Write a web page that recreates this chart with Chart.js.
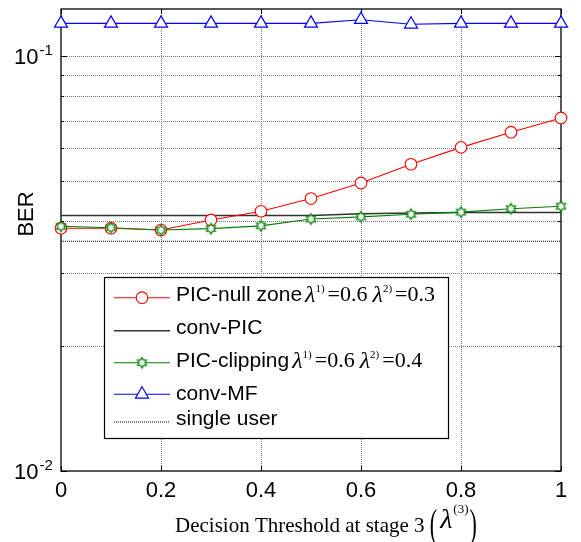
<!DOCTYPE html>
<html><head><meta charset="utf-8">
<script src="https://cdn.jsdelivr.net/npm/chart.js@4.4.1/dist/chart.umd.min.js"></script>
<style>html,body{margin:0;padding:0;background:#fff}canvas{display:block}</style>
</head><body>
<canvas id="c" width="581" height="542"></canvas>
<script>
// ---------- data ----------
const thresholds   = [0, 0.1, 0.2, 0.3, 0.4, 0.5, 0.6, 0.7, 0.8, 0.9, 1.0];
const picNullZone  = [0.0385, 0.0385, 0.0381, 0.0403, 0.0423, 0.0454, 0.0495, 0.0549, 0.0603, 0.0656, 0.0710];
const convPIC      = [0.0413, 0.0413, 0.0413, 0.0413, 0.0413, 0.0413, 0.0417, 0.0419, 0.0420, 0.0420, 0.0420];
const picClipping  = [0.0389, 0.0386, 0.0381, 0.0384, 0.0390, 0.0405, 0.0410, 0.0416, 0.0421, 0.0429, 0.0435];
const convMF       = [0.1200, 0.1200, 0.1200, 0.1200, 0.1200, 0.1200, 0.1225, 0.1194, 0.1200, 0.1200, 0.1200];
const singleUser   = [0.0358, 0.0358, 0.0358, 0.0358, 0.0358, 0.0358, 0.0358, 0.0358, 0.0358, 0.0358, 0.0358];

const xTicks      = [0, 0.2, 0.4, 0.6, 0.8, 1];
const xTickLabels = ['0', '0.2', '0.4', '0.6', '0.8', '1'];
const yTicks      = [0.01, 0.1];
const yTickExps   = ['-2', '-1'];
const yMinor      = [0.02, 0.03, 0.04, 0.05, 0.06, 0.07, 0.08, 0.09, 0.1];
const legendLabels = ['PIC-null zone', 'conv-PIC', 'PIC-clipping', 'conv-MF', 'single user'];
const legendLambda = [[['1)', '=0.6'], ['2)', '=0.3']], null, [['1)', '=0.6'], ['2)', '=0.4']], null, null];
const yTitle = 'BER';
const xTitle = 'Decision Threshold at stage 3';
const xTitleSup = '(3)';

// ---------- markers ----------
function makeHex(R, color) {
  const s = Math.ceil(R * 2 + 4);
  const c = document.createElement('canvas'); c.width = s; c.height = s;
  const g = c.getContext('2d'); const cx = s / 2, cy = s / 2; const r = R / Math.sqrt(3);
  g.beginPath();
  for (let i = 0; i < 12; i++) {
    const a = -Math.PI / 2 + i * Math.PI / 6; const rr = i % 2 === 0 ? R : r;
    g.lineTo(cx + rr * Math.cos(a), cy + rr * Math.sin(a));
  }
  g.closePath(); g.fillStyle = '#fff'; g.fill(); g.strokeStyle = color; g.lineWidth = 1.2; g.stroke();
  return c;
}
const hexImg = makeHex(5.2, '#008000');

const pts = arr => thresholds.map((t, i) => ({x: t, y: arr[i]}));

const datasets = [
  {label: legendLabels[0], data: pts(picNullZone), borderColor: '#ff0000', borderWidth: 1.1, pointStyle: 'circle', pointRadius: 5.8, pointBorderWidth: 1.1, pointBackgroundColor: '#fff', pointBorderColor: '#ff0000', order: 2},
  {label: legendLabels[1], data: pts(convPIC), borderColor: '#333333', borderWidth: 1.5, pointRadius: 0, order: 4},
  {label: legendLabels[2], data: pts(picClipping), borderColor: '#008000', borderWidth: 1.1, pointStyle: hexImg, pointRadius: 5, order: 1},
  {label: legendLabels[3], data: pts(convMF), borderColor: '#0000ff', borderWidth: 1.1, pointStyle: 'triangle', pointRadius: 7.5, pointBorderWidth: 1.2, pointBackgroundColor: '#fff', pointBorderColor: '#0000ff', order: 3},
  {label: legendLabels[4], data: pts(singleUser), borderColor: '#000000', borderWidth: 1, borderDash: [1, 1], pointRadius: 0, order: 5}
];
datasets.forEach(d => { d.clip = false; d.tension = 0; d.fill = false; d.pointHoverRadius = d.pointRadius; });

function drawMarker(ctx, ds, x, y) {
  if (!ds.pointRadius) return;
  const r = ds.pointRadius;
  if (ds.pointStyle === 'circle') {
    ctx.beginPath(); ctx.arc(x, y, r, 0, Math.PI * 2); ctx.fillStyle = '#fff'; ctx.fill();
    ctx.lineWidth = ds.pointBorderWidth; ctx.strokeStyle = ds.pointBorderColor; ctx.stroke();
  } else if (ds.pointStyle === 'triangle') {
    ctx.beginPath();
    let rad = 0;
    ctx.moveTo(x + Math.sin(rad) * r, y - Math.cos(rad) * r); rad += 2 * Math.PI / 3;
    ctx.lineTo(x + Math.sin(rad) * r, y - Math.cos(rad) * r); rad += 2 * Math.PI / 3;
    ctx.lineTo(x + Math.sin(rad) * r, y - Math.cos(rad) * r); ctx.closePath();
    ctx.fillStyle = '#fff'; ctx.fill(); ctx.lineWidth = ds.pointBorderWidth; ctx.strokeStyle = ds.pointBorderColor; ctx.stroke();
  } else if (ds.pointStyle instanceof HTMLCanvasElement) {
    ctx.drawImage(ds.pointStyle, x - ds.pointStyle.width / 2, y - ds.pointStyle.height / 2);
  }
}

const SANS = '"Liberation Sans", Arial, sans-serif';
const SERIF = '"Liberation Serif", "Times New Roman", serif';

const matlabPlugin = {
  id: 'matlab',
  beforeDatasetsDraw(chart) {
    const {ctx, chartArea: a, scales: {x, y}} = chart;
    ctx.save();
    ctx.strokeStyle = '#7a7a7a'; ctx.lineWidth = 1; ctx.setLineDash([1, 1]);
    ctx.beginPath();
    yMinor.forEach(v => { const py = Math.round(y.getPixelForValue(v)) + 0.5; ctx.moveTo(a.left, py); ctx.lineTo(a.right, py); });
    xTicks.forEach(v => { if (v <= 0 || v >= 1) return; const px = Math.round(x.getPixelForValue(v)) + 0.5; ctx.moveTo(px, a.top); ctx.lineTo(px, a.bottom); });
    ctx.stroke();
    ctx.setLineDash([]);
    ctx.strokeStyle = '#000'; ctx.lineWidth = 1;
    ctx.beginPath();
    xTicks.forEach(v => { const px = Math.round(x.getPixelForValue(v)) + 0.5; ctx.moveTo(px, a.bottom); ctx.lineTo(px, a.bottom - 5); ctx.moveTo(px, a.top); ctx.lineTo(px, a.top + 5); });
    yMinor.concat(yTicks).forEach(v => { const py = Math.round(y.getPixelForValue(v)) + 0.5; const L = yTicks.includes(v) ? 6 : 3;
      ctx.moveTo(a.left, py); ctx.lineTo(a.left + L, py); ctx.moveTo(a.right, py); ctx.lineTo(a.right - L, py); });
    ctx.stroke();
    ctx.lineWidth = 1.3;
    ctx.strokeRect(a.left, a.top, a.right - a.left, a.bottom - a.top);
    ctx.restore();
  },
  afterDatasetsDraw(chart) {
    const {ctx, chartArea: a, scales: {x, y}} = chart;
    ctx.save();
    ctx.fillStyle = '#000';
    // x tick labels
    ctx.font = '22px ' + SANS; ctx.textAlign = 'center'; ctx.textBaseline = 'alphabetic';
    xTicks.forEach((v, i) => ctx.fillText(xTickLabels[i], x.getPixelForValue(v), 497));
    // y tick labels 10^e
    ctx.textAlign = 'left';
    yTicks.forEach((v, i) => {
      const py = y.getPixelForValue(v);
      ctx.font = '22px ' + SANS; ctx.fillText('10', 14, py + 8);
      const w = ctx.measureText('10').width;
      ctx.font = '15px ' + SANS; ctx.fillText(yTickExps[i], 14 + w + 1, py - 1);
    });
    // y title
    ctx.save(); ctx.translate(33, 214); ctx.rotate(-Math.PI / 2);
    ctx.font = '22px ' + SANS; ctx.textAlign = 'center'; ctx.fillText(yTitle, 0, 0); ctx.restore();
    // x title
    ctx.textAlign = 'left';
    ctx.font = '21px ' + SERIF;
    let tx = 175; const tb = 532;
    ctx.fillText(xTitle, tx, tb); tx += ctx.measureText(xTitle + ' ').width;
    ctx.save(); ctx.translate(tx, tb + 5); ctx.scale(0.55, 1); ctx.font = '40px ' + SERIF; ctx.fillText('(', 0, 0);
    const pw = ctx.measureText('(').width * 0.55; ctx.restore();
    tx += pw + 3;
    ctx.font = 'italic 28px ' + SERIF; ctx.fillText('λ', tx, tb - 4); tx += ctx.measureText('λ').width + 1;
    ctx.font = '13px ' + SERIF; ctx.fillText(xTitleSup, tx, tb - 19); tx += ctx.measureText(xTitleSup).width + 1;
    ctx.save(); ctx.translate(tx, tb + 5); ctx.scale(0.55, 1); ctx.font = '40px ' + SERIF; ctx.fillText(')', 0, 0); ctx.restore();

    // legend
    const L = {left: 104, top: 277, right: 448, bottom: 438};
    ctx.fillStyle = '#fff'; ctx.fillRect(L.left, L.top, L.right - L.left, L.bottom - L.top);
    ctx.strokeStyle = '#000'; ctx.lineWidth = 1.2; ctx.strokeRect(L.left + 0.5, L.top + 0.5, L.right - L.left, L.bottom - L.top);
    const rowsLine = [297.7, 330.7, 362.7, 394.3, 422];
    const rowsText = [301, 334, 367, 399.5, 424.5];
    chart.data.datasets.forEach((ds, i) => {
      const ly = rowsLine[i];
      ctx.save();
      ctx.strokeStyle = ds.borderColor; ctx.lineWidth = ds.borderWidth; ctx.setLineDash(ds.borderDash || []);
      ctx.beginPath(); ctx.moveTo(114, ly); ctx.lineTo(170, ly); ctx.stroke(); ctx.setLineDash([]);
      drawMarker(ctx, ds, 142, ly);
      ctx.restore();
      ctx.fillStyle = '#000'; ctx.textAlign = 'left';
      ctx.font = '21px ' + SANS;
      let lx = 176; const bl = rowsText[i];
      ctx.fillText(legendLabels[i], lx, bl); lx += ctx.measureText(legendLabels[i]).width + 3;
      if (legendLambda[i]) {
        legendLambda[i].forEach(([sup, val]) => {
          ctx.font = 'italic 24px ' + SERIF; ctx.fillText('λ', lx, bl + 1); lx += ctx.measureText('λ').width;
          ctx.font = '11px ' + SERIF; ctx.fillText(sup, lx, bl - 9); lx += ctx.measureText(sup).width + 3;
          ctx.font = '22px ' + SERIF; ctx.fillText(val, lx, bl); lx += ctx.measureText(val).width + 5;
        });
      }
    });
    ctx.restore();
  }
};

new Chart(document.getElementById('c'), {
  type: 'line',
  data: {datasets},
  options: {
    responsive: false, animation: false, devicePixelRatio: 1,
    layout: {padding: {left: 61, right: 20, top: 9, bottom: 71}},
    plugins: {legend: {display: false}, tooltip: {enabled: false}},
    scales: {
      x: {type: 'linear', min: 0, max: 1, display: false},
      y: {type: 'logarithmic', min: 0.01, max: 0.13, display: false}
    }
  },
  plugins: [matlabPlugin]
});
</script>
</body></html>
